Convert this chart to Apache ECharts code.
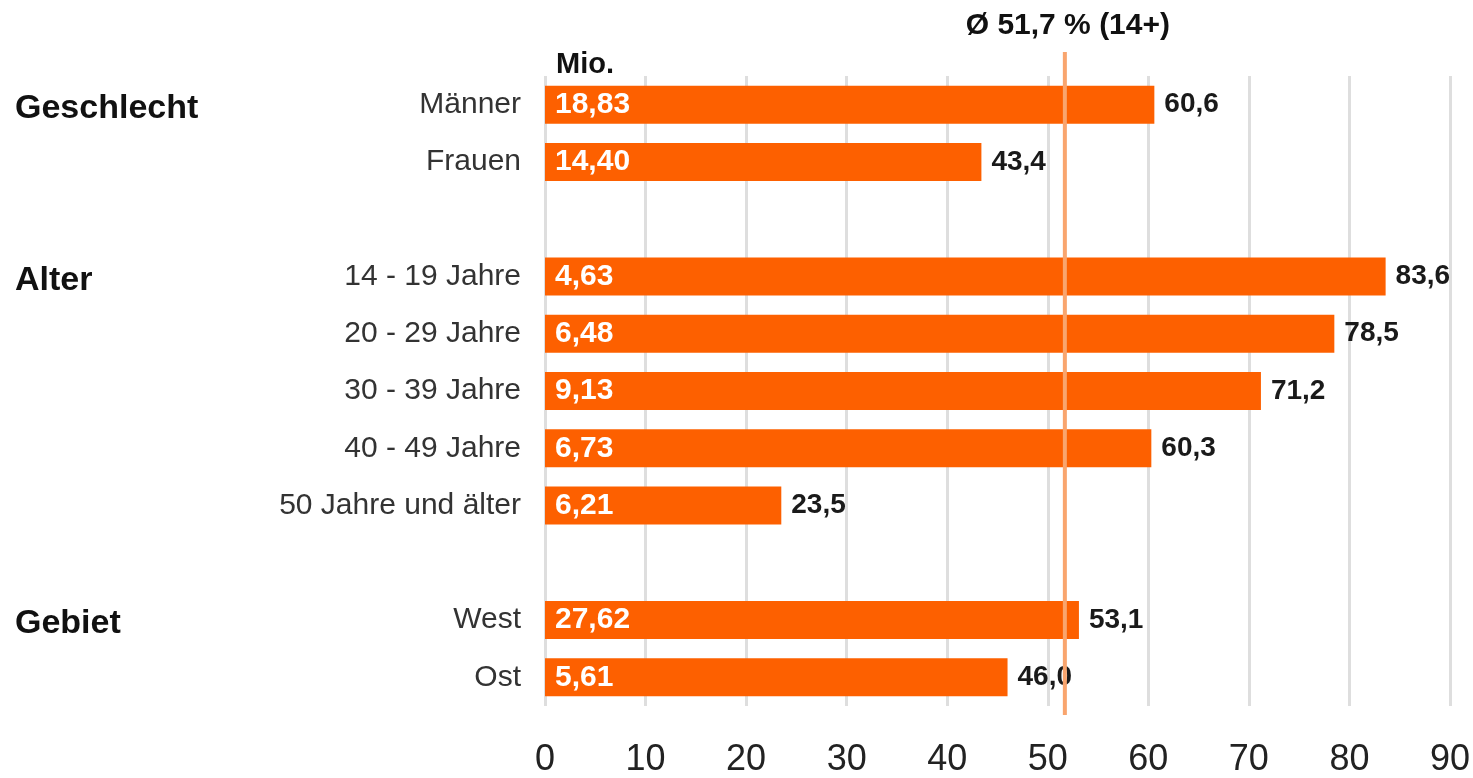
<!DOCTYPE html>
<html>
<head>
<meta charset="utf-8">
<script src="https://cdn.jsdelivr.net/npm/echarts@6/dist/echarts.min.js"></script>
<style>
html, body { margin: 0; padding: 0; background: #fff; }
#chart { width: 1473px; height: 778px; }
</style>
</head>
<body>
<div id="chart"></div>
<script>
// Kategorien (leere Einträge = Abstand zwischen den Gruppen)
var categories = ['Männer', 'Frauen', '', '14 - 19 Jahre', '20 - 29 Jahre', '30 - 39 Jahre',
                  '40 - 49 Jahre', '50 Jahre und älter', '', 'West', 'Ost'];
// Reichweite in %
var percent = [60.6, 43.4, '-', 83.6, 78.5, 71.2, 60.3, 23.5, '-', 53.1, 46.0];
// Mio. Personen (Beschriftung im Balken)
var mio = ['18,83', '14,40', '', '4,63', '6,48', '9,13', '6,73', '6,21', '', '27,62', '5,61'];
// Gruppen und ihre erste Zeile
var groupNames = ['Geschlecht', 'Alter', 'Gebiet'];
var groupRows = [0, 3, 9];
// Durchschnitt
var avgValue = 51.7;
var avgText = 'Ø 51,7 % (14+)';
var unitText = 'Mio.';

var FONT = '"Liberation Sans", Arial, sans-serif';
var chart = echarts.init(document.getElementById('chart'));

chart.setOption({
    backgroundColor: '#fff',
    animation: false,
    grid: {
        top: 76,
        bottom: 69,
        left: 545,
        right: 23
    },
    xAxis: {
        type: 'value',
        min: 0,
        max: 90,
        interval: 10,
        axisLine: { show: false },
        axisTick: { show: false },
        splitLine: { lineStyle: { color: '#dedede', width: 3 } },
        axisLabel: {
            margin: 36,
            color: '#222',
            fontSize: 36,
            fontFamily: FONT
        }
    },
    yAxis: {
        type: 'category',
        inverse: true,
        data: categories,
        axisLine: { show: false },
        axisTick: { show: false },
        axisLabel: {
            margin: 24,
            color: '#333',
            fontSize: 30,
            fontFamily: FONT,
            padding: [7, 0, 0, 0]
        }
    },
    series: [{
        type: 'bar',
        data: percent,
        barWidth: 38,
        itemStyle: { color: '#fd6000' },
        label: {
            show: true,
            position: 'insideLeft',
            distance: 10,
            color: '#fff',
            fontSize: 30,
            fontWeight: 'bold',
            fontFamily: FONT,
            padding: [5, 0, 0, 0],
            formatter: function (p) { return mio[p.dataIndex]; }
        }
    }, {
        type: 'bar',
        data: percent,
        barWidth: 38,
        barGap: '-100%',
        silent: true,
        itemStyle: { color: 'rgba(0,0,0,0)' },
        label: {
            show: true,
            position: 'right',
            distance: 10,
            color: '#1a1a1a',
            fontSize: 28,
            fontWeight: 'bold',
            fontFamily: FONT,
            padding: [7, 0, 0, 0],
            formatter: function (p) { return p.value.toFixed(1).replace('.', ','); }
        }
    }]
});

// Zusatztexte und Durchschnittslinie an den Achsen ausrichten
var x0 = chart.convertToPixel({ xAxisIndex: 0 }, 0);
var xAvg = chart.convertToPixel({ xAxisIndex: 0 }, avgValue);
var gridTop = 76, gridBottom = 778 - 69;
var graphics = [];
groupNames.forEach(function (name, i) {
    var y = chart.convertToPixel({ yAxisIndex: 0 }, categories[groupRows[i]]);
    graphics.push({
        type: 'text',
        x: 15,
        y: y + 4,
        style: { text: name, fill: '#111', font: 'bold 34px ' + FONT, textVerticalAlign: 'middle' }
    });
});
graphics.push({
    type: 'text',
    x: x0 + 11,
    y: gridTop + 3,
    style: { text: unitText, fill: '#111', font: 'bold 29px ' + FONT, textVerticalAlign: 'bottom' }
});
graphics.push({
    type: 'line',
    z: 100,
    shape: { x1: xAvg, y1: gridTop - 24, x2: xAvg, y2: gridBottom + 6 },
    style: { stroke: '#f9a56e', lineWidth: 4 }
});
graphics.push({
    type: 'text',
    x: xAvg + 3,
    y: 26,
    style: { text: avgText, fill: '#111', font: 'bold 30px ' + FONT, textAlign: 'center', textVerticalAlign: 'middle' }
});
chart.setOption({ graphic: graphics });
</script>
</body>
</html>
